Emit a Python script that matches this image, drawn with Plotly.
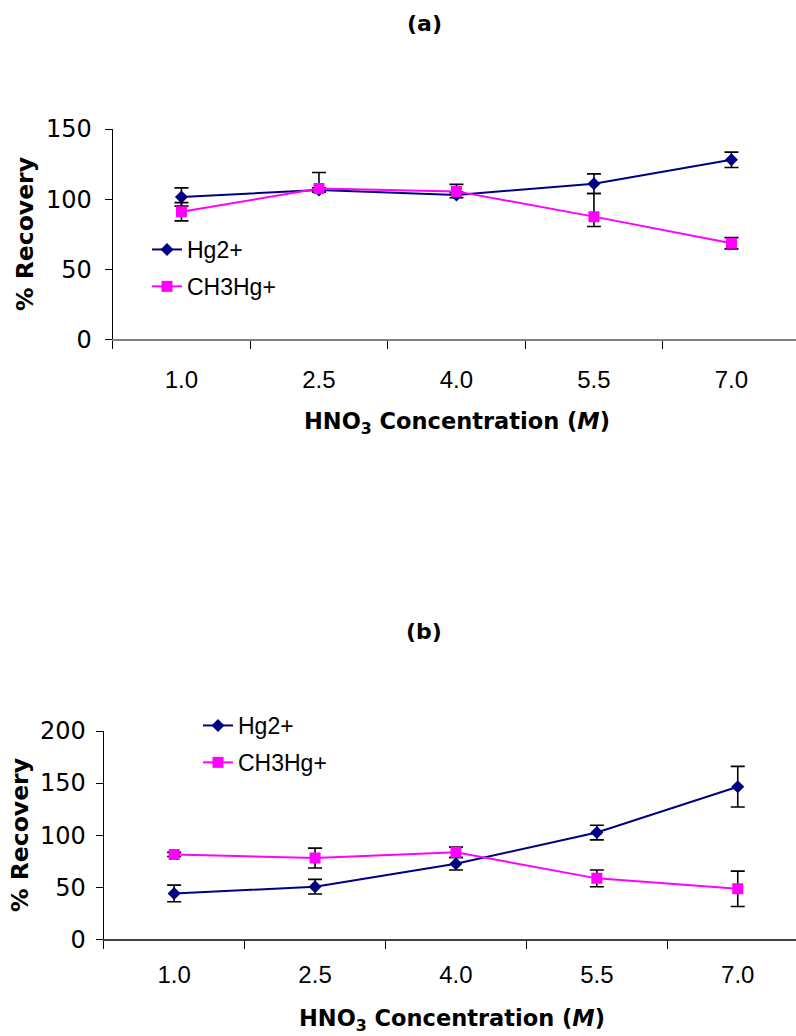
import plotly.graph_objects as go

# HNO3 concentrations (M), shown as category labels
concentrations = ["1.0", "2.5", "4.0", "5.5", "7.0"]

# Panel (a): % recovery and error bars
hg_a = [101.5, 106.5, 103.0, 111.0, 128.0]
hg_a_err_plus = [6.5, 1.5, 2.0, 7.0, 5.5]
hg_a_err_minus = [6.5, 1.5, 2.0, 7.0, 5.5]
ch3_a = [91.0, 107.5, 105.5, 87.5, 68.5]
ch3_a_err_plus = [6.5, 11.5, 5.0, 16.5, 4.0]
ch3_a_err_minus = [6.5, 1.5, 2.0, 7.0, 4.0]

# Panel (b): % recovery and error bars
hg_b = [44.0, 50.5, 72.5, 102.5, 146.5]
hg_b_err = [8.0, 7.0, 6.0, 7.0, 19.5]
ch3_b = [81.5, 78.0, 83.5, 58.5, 48.5]
ch3_b_err = [2.0, 9.5, 5.0, 8.0, 17.0]

W, H = 796, 1036
SANS = "Liberation Sans, Arial"
WIDE = "DejaVu Sans"
NAVY = "#000080"
MAGENTA = "#FF00FF"


def px_x(p):
    return p / W


def px_y(p):
    return 1 - p / H


fig = go.Figure()


def add_series(xa, ya, name, y, eplus, eminus, color, symbol, size, legend):
    fig.add_trace(go.Scatter(
        x=concentrations, y=y, name=name, xaxis=xa, yaxis=ya,
        mode="lines+markers",
        line=dict(color=color, width=2),
        marker=dict(symbol=symbol, color=color, size=size),
        error_y=dict(type="data", symmetric=False, array=eplus, arrayminus=eminus,
                     color="black", thickness=1.6, width=7),
        legend=legend, legendgroup=name + legend, showlegend=True,
    ))


add_series("x", "y", "Hg2+", hg_a, hg_a_err_plus, hg_a_err_minus, NAVY, "diamond", 10, "legend")
add_series("x", "y", "CH3Hg+", ch3_a, ch3_a_err_plus, ch3_a_err_minus, MAGENTA, "square", 11, "legend")
add_series("x2", "y2", "Hg2+", hg_b, hg_b_err, hg_b_err, NAVY, "diamond", 10, "legend2")
add_series("x2", "y2", "CH3Hg+", ch3_b, ch3_b_err, ch3_b_err, MAGENTA, "square", 11, "legend2")

xtickfont = dict(family=SANS, size=24, color="black")
ytickfont = dict(family=WIDE, size=24, color="black")


def xaxis(domain, anchor, left_px, spacing, line_color, standoff):
    return dict(
        domain=domain, anchor=anchor, type="category", automargin=False,
        range=[-0.5, -0.5 + (W - left_px) / spacing],
        showline=True, linecolor=line_color, linewidth=2,
        ticks="outside", tickson="boundaries", ticklen=8, tickcolor="black", tickwidth=1,
        showgrid=False, zeroline=False, tickfont=xtickfont, ticklabelstandoff=standoff,
        fixedrange=True,
    )


def yaxis(domain, anchor, top, standoff):
    return dict(
        domain=domain, anchor=anchor, range=[0, top], dtick=50, automargin=False,
        showline=True, linecolor="black", linewidth=1,
        ticks="outside", ticklen=7, tickcolor="black",
        showgrid=False, zeroline=False, tickfont=ytickfont, ticklabelstandoff=standoff,
        fixedrange=True,
    )


legend_common = dict(xanchor="left", yanchor="top", bgcolor="rgba(0,0,0,0)",
                     font=dict(family=SANS, size=23, color="black"), tracegroupgap=4)

fig.update_layout(
    width=W, height=H,
    margin=dict(l=0, r=0, t=0, b=0, autoexpand=False),
    paper_bgcolor="white", plot_bgcolor="white",
    font=dict(family=SANS, color="black"),
    xaxis=xaxis([px_x(112.7), 1], "y", 112.7, 137.5, "#808080", 18),
    yaxis=yaxis([px_y(339.3), px_y(129)], "x", 150, 8),
    xaxis2=xaxis([px_x(103.7), 1], "y2", 103.7, 140.9, "#404040", 13),
    yaxis2=yaxis([px_y(939.3), px_y(731)], "x2", 200, 5),
    legend=dict(x=px_x(147), y=px_y(228), **legend_common),
    legend2=dict(x=px_x(198), y=px_y(704), **legend_common),
    showlegend=True,
)

annotations = [
    dict(text="<b>(a)</b>", x=px_x(424), y=px_y(24), size=22),
    dict(text="<b>(b)</b>", x=px_x(424), y=px_y(631), size=22),
    dict(text="<b>HNO<sub>3</sub> Concentration (<i>M</i>)</b>", x=px_x(457), y=px_y(423), size=22.5),
    dict(text="<b>HNO<sub>3</sub> Concentration (<i>M</i>)</b>", x=px_x(452), y=px_y(1020), size=22.5),
    dict(text="<b>% Recovery</b>", x=px_x(25), y=px_y(234), textangle=-90, size=23.5),
    dict(text="<b>% Recovery</b>", x=px_x(20), y=px_y(835), textangle=-90, size=23.5),
]
for a in annotations:
    size = a.pop("size")
    fig.add_annotation(xref="paper", yref="paper", xanchor="center", yanchor="middle",
                       showarrow=False, font=dict(family=WIDE, size=size, color="black"), **a)

fig.write_html("out.html")
